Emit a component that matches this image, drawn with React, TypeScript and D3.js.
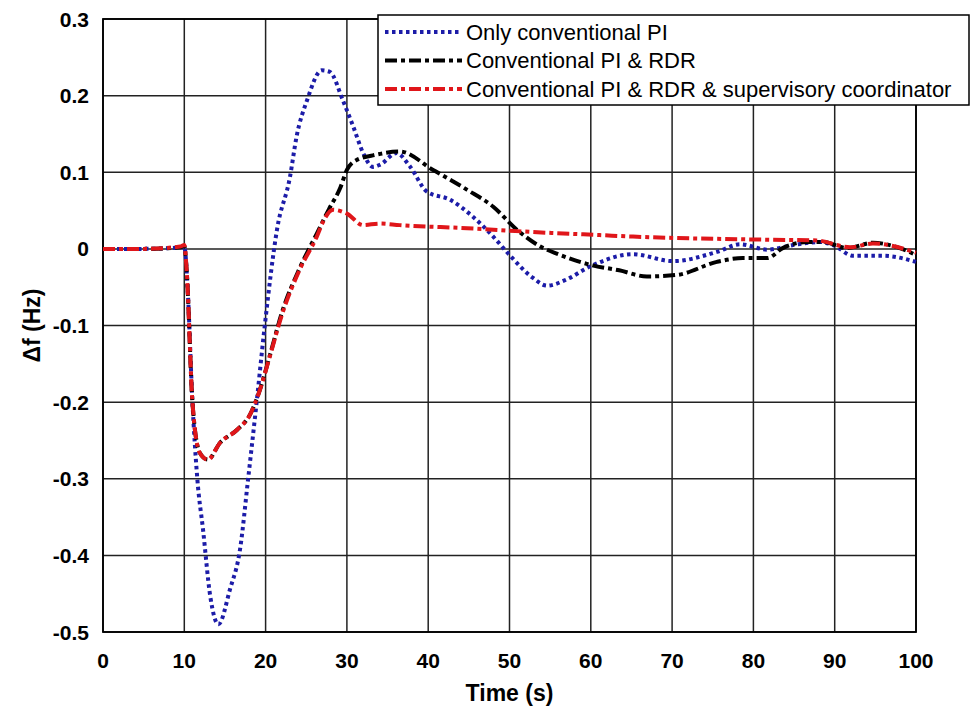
import React from "react";
import * as d3 from "d3";

// Δf response (Hz) vs time (s)
const onlyPI: [number, number][] = [
  [0, 0], [5, 0], [9.5, 0.002], [10, 0.003], [10.4, -0.05], [11, -0.2], [11.6, -0.3],
  [12.3, -0.366], [13.2, -0.454], [14.2, -0.49], [15.6, -0.445], [16.9, -0.389],
  [17.8, -0.305], [18.9, -0.2], [19.9, -0.1], [21.4, 0.025], [23, 0.094], [23.8, 0.146],
  [25.1, 0.194], [26.9, 0.233], [27.9, 0.231], [29.5, 0.194], [30.8, 0.159], [32, 0.125],
  [33.2, 0.107], [34.1, 0.11], [36.1, 0.125], [37.8, 0.107], [39.8, 0.075], [42.7, 0.064],
  [45.5, 0.042], [48, 0.016], [50, -0.008], [52.9, -0.038], [54.6, -0.048], [57, -0.04],
  [59.9, -0.023], [65.2, -0.007], [70.1, -0.016], [75.5, -0.004], [78.4, 0.006],
  [81.7, -0.001], [84.9, 0.005], [88.2, 0.009], [89.8, 0.005], [92.3, -0.009],
  [96, -0.009], [100, -0.017],
];

const piRdr: [number, number][] = [
  [0, 0], [5, 0], [9.5, 0.002], [10, 0.004], [10.3, -0.03], [11, -0.2], [11.9, -0.266],
  [12.9, -0.275], [14.4, -0.253], [16.5, -0.236], [18.1, -0.216], [19.3, -0.184],
  [20.5, -0.14], [22.1, -0.08], [24.2, -0.025], [26.3, 0.02], [27.8, 0.052],
  [29.2, 0.08], [30, 0.103], [31.2, 0.116], [33.2, 0.122], [36.5, 0.127], [40.6, 0.103],
  [44.8, 0.077], [48, 0.055], [50.9, 0.025], [53.8, 0.003], [56, -0.007], [60, -0.021],
  [63.5, -0.028], [66.9, -0.036], [70.6, -0.034], [75.5, -0.017], [78.7, -0.012],
  [81.7, -0.012], [83.6, 0.001], [86.6, 0.009], [88.6, 0.009], [91.5, 0.001],
  [94.7, 0.008], [98, 0.001], [100, -0.008],
];

const piRdrSup: [number, number][] = [
  [0, 0], [5, 0], [9.5, 0.003], [10, 0.005], [10.3, -0.03], [11, -0.2], [11.9, -0.266],
  [12.9, -0.275], [14.4, -0.253], [16.5, -0.236], [18.1, -0.216], [19.3, -0.184],
  [20.5, -0.141], [22.1, -0.083], [24.2, -0.027], [26.3, 0.016], [27.1, 0.036],
  [28.3, 0.051], [30, 0.046], [32, 0.031], [34, 0.033], [36.5, 0.031], [44.8, 0.027],
  [52.9, 0.022], [61.1, 0.018], [65.2, 0.016], [81.7, 0.012], [87.8, 0.011],
  [91.9, 0.002], [94.7, 0.007], [100, -0.005],
];

const xTicks = [0, 10, 20, 30, 40, 50, 60, 70, 80, 90, 100];
const yTicks = [-0.5, -0.4, -0.3, -0.2, -0.1, 0, 0.1, 0.2, 0.3];
const yTickLabels = ["-0.5", "-0.4", "-0.3", "-0.2", "-0.1", "0", "0.1", "0.2", "0.3"];

const seriesNames = [
  "Only conventional PI",
  "Conventional PI & RDR",
  "Conventional PI & RDR & supervisory coordinator",
];

const W = 972;
const H = 709;
const left = 103;
const right = 916;
const top = 19;
const bottom = 632;

export default function App() {
  const x = d3.scaleLinear().domain([0, 100]).range([left, right]);
  const y = d3.scaleLinear().domain([-0.5, 0.3]).range([bottom, top]);
  const line = d3
    .line<[number, number]>()
    .x((d) => x(d[0]))
    .y((d) => y(d[1]))
    .curve(d3.curveMonotoneX);

  const styles = [
    { data: onlyPI, color: "#1c1ca8", dash: "3.5,3.5", width: 4 },
    { data: piRdr, color: "#000000", dash: "12,4,4,4", width: 4 },
    { data: piRdrSup, color: "#e0161a", dash: "12,4,4,4", width: 4 },
  ];

  const font = "'Liberation Sans', Arial, sans-serif";

  return (
    <svg
      width={W}
      height={H}
      style={{ position: "absolute", left: 0, top: 0, background: "#fff" }}
      fontFamily={font}
    >
      {xTicks.map((t) => (
        <line key={"gx" + t} x1={x(t)} x2={x(t)} y1={top} y2={bottom} stroke="#222" strokeWidth={1.5} />
      ))}
      {yTicks.map((t) => (
        <line key={"gy" + t} x1={left} x2={right} y1={y(t)} y2={y(t)} stroke="#222" strokeWidth={1.5} />
      ))}
      <rect x={left} y={top} width={right - left} height={bottom - top} fill="none" stroke="#000" strokeWidth={1.8} />

      {styles.map((s, i) => (
        <path
          key={i}
          d={line(s.data) || ""}
          fill="none"
          stroke={s.color}
          strokeWidth={s.width}
          strokeDasharray={s.dash}
        />
      ))}

      {yTicks.map((t, i) => (
        <text
          key={"ty" + t}
          x={left - 14}
          y={y(t)}
          dy="0.36em"
          textAnchor="end"
          fontSize={21}
          fontWeight="bold"
        >
          {yTickLabels[i]}
        </text>
      ))}
      {xTicks.map((t) => (
        <text
          key={"tx" + t}
          x={x(t)}
          y={bottom + 36}
          textAnchor="middle"
          fontSize={21}
          fontWeight="bold"
        >
          {t}
        </text>
      ))}
      <text x={(left + right) / 2} y={701} textAnchor="middle" fontSize={23} fontWeight="bold">
        Time (s)
      </text>
      <text
        transform={`translate(40, ${(top + bottom) / 2}) rotate(-90)`}
        textAnchor="middle"
        fontSize={23}
        fontWeight="bold"
      >
        Δf (Hz)
      </text>

      <g transform="translate(378, 15)">
        <rect x={0} y={0} width={591} height={90} fill="#fff" stroke="#000" strokeWidth={1.5} />
        {styles.map((s, i) => (
          <g key={"lg" + i} transform={`translate(0, ${17 + i * 28.5})`}>
            <line x1={7} x2={84} y1={0} y2={0} stroke={s.color} strokeWidth={4} strokeDasharray={s.dash} />
            <text x={88} y={0} dy="0.36em" fontSize={22}>
              {seriesNames[i]}
            </text>
          </g>
        ))}
      </g>
    </svg>
  );
}
